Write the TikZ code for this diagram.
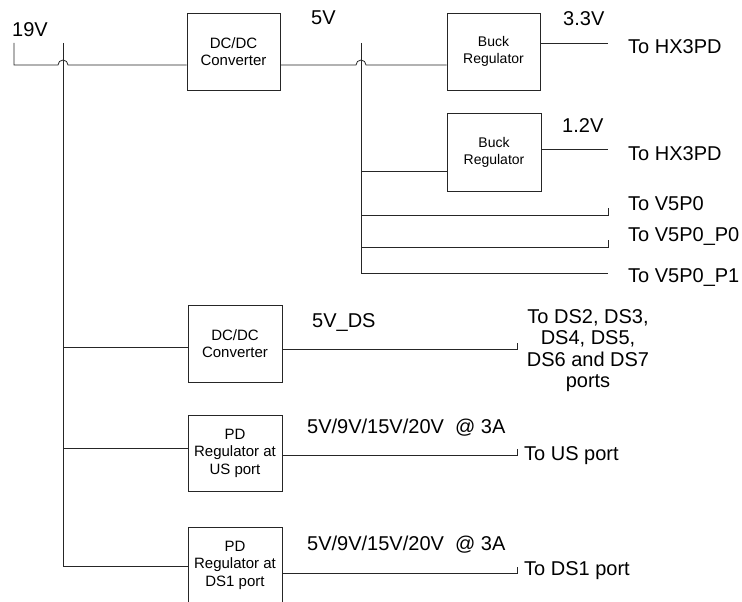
\documentclass[tikz,border=0pt]{standalone}
\usepackage{fontspec}
\setmainfont{Liberation Sans}
\usetikzlibrary{calc}
\begin{document}
\begin{tikzpicture}[x=1pt,y=-1pt,
  wire/.style={draw=black!85,line width=0.8pt},
  blk/.style={draw=black!85,line width=0.8pt,align=center,inner sep=0pt,
    font=\fontsize{15}{17}\selectfont},
  lbl/.style={inner sep=0pt,anchor=base west,font=\fontsize{20}{24}\selectfont}]
\useasboundingbox (0,0) rectangle (742,602);

% blocks
\node[blk,minimum width=93pt,minimum height=77pt] (dc1) at (233.5,51.5) {DC/DC\\Converter};
\node[blk,minimum width=93pt,minimum height=77pt,font=\fontsize{14}{17}\selectfont] (buck1) at (493.5,51.5) {Buck\\Regulator};
\node[blk,minimum width=94pt,minimum height=78pt,font=\fontsize{14}{17}\selectfont] (buck2) at (494,152) {Buck\\Regulator};
\node[blk,minimum width=94pt,minimum height=77pt] (dc2) at (235,343.5) {DC/DC\\Converter};
\node[blk,minimum width=94pt,minimum height=76pt,font=\fontsize{15}{17.5}\selectfont] (pd1) at (235,453) {PD\\Regulator at\\US port};
\node[blk,minimum width=94pt,minimum height=76pt,font=\fontsize{15}{17.5}\selectfont] (pd2) at (235,565) {PD\\Regulator at\\DS1 port};

% labels
\node[lbl] (l19) at (12,37) {19V};
\node[lbl] (l5) at (311,25) {5V};
\node[lbl] (l33) at (563,26) {3.3V};
\node[lbl] (hx1) at (628,54) {To HX3PD};
\node[lbl] (l12) at (562,132) {1.2V};
\node[lbl] (hx2) at (628,160) {To HX3PD};
\node[lbl] (v5a) at (628,210) {To V5P0};
\node[lbl] (v5b) at (628,241) {To V5P0\_P0};
\node[lbl] (v5c) at (628,282) {To V5P0\_P1};
\node[lbl] (l5ds) at (312,327) {5V\_DS};
\node[inner sep=0pt,anchor=north,align=center,font=\fontsize{20}{21.5}\selectfont] (dsp) at (588,309) {To DS2, DS3,\\DS4, DS5,\\DS6 and DS7\\ports};
\node[lbl] (pdl1) at (307,433) {5V/9V/15V/20V \ @ 3A};
\node[lbl] (us) at (524,460) {To US port};
\node[lbl] (pdl2) at (307,550) {5V/9V/15V/20V \ @ 3A};
\node[lbl] (ds1) at (524,575) {To DS1 port};

% 19V input and bus
\coordinate (t19) at (14,43);
\coordinate (j19) at (14,65);
\coordinate (bus19top) at (63,43);
\coordinate (bus19bot) at (63,566);
\draw[wire] (t19) -- (j19) -- ([xshift=-5pt]bus19top |- j19) arc[start angle=180,end angle=0,radius=5pt] -- (dc1.west |- j19);
\draw[wire] (bus19top) -- (bus19bot);

% 5V rail and bus
\coordinate (j5) at (361,65);
\coordinate (bus5top) at (361,43);
\coordinate (bus5bot) at (361,273);
\draw[wire] (dc1.east |- j5) -- ([xshift=-5pt]j5) arc[start angle=180,end angle=0,radius=5pt] -- (buck1.west |- j5);
\draw[wire] (bus5top) -- (bus5bot);

% buck outputs
\coordinate (o33) at (608,43);
\draw[wire] (buck1.east |- o33) -- (o33);
\coordinate (b2in) at (361,171);
\draw[wire] (b2in) -- (buck2.west |- b2in);
\coordinate (o12) at (608,149);
\draw[wire] (buck2.east |- o12) -- (o12);

% 5V direct outputs
\coordinate (va1) at (361,215); \coordinate (vb1) at (608,215);
\draw[wire] (va1) -- (vb1) -- ++(0,-7);
\coordinate (va2) at (361,247); \coordinate (vb2) at (608,247);
\draw[wire] (va2) -- (vb2) -- ++(0,-7);
\coordinate (vb3) at (608,273);
\draw[wire] (bus5bot) -- (vb3);

% 19V branches
\coordinate (c2) at (63,347);
\draw[wire] (c2) -- (dc2.west |- c2);
\coordinate (e2) at (517,349);
\draw[wire] (dc2.east |- e2) -- (e2) -- ++(0,-6);
\coordinate (c3) at (63,448);
\draw[wire] (c3) -- (pd1.west |- c3);
\coordinate (e3) at (517,455);
\draw[wire] (pd1.east |- e3) -- (e3) -- ++(0,-6);
\draw[wire] (bus19bot) -- (pd2.west |- bus19bot);
\coordinate (e4) at (517,573);
\draw[wire] (pd2.east |- e4) -- (e4) -- ++(0,-6);
\end{tikzpicture}
\end{document}
